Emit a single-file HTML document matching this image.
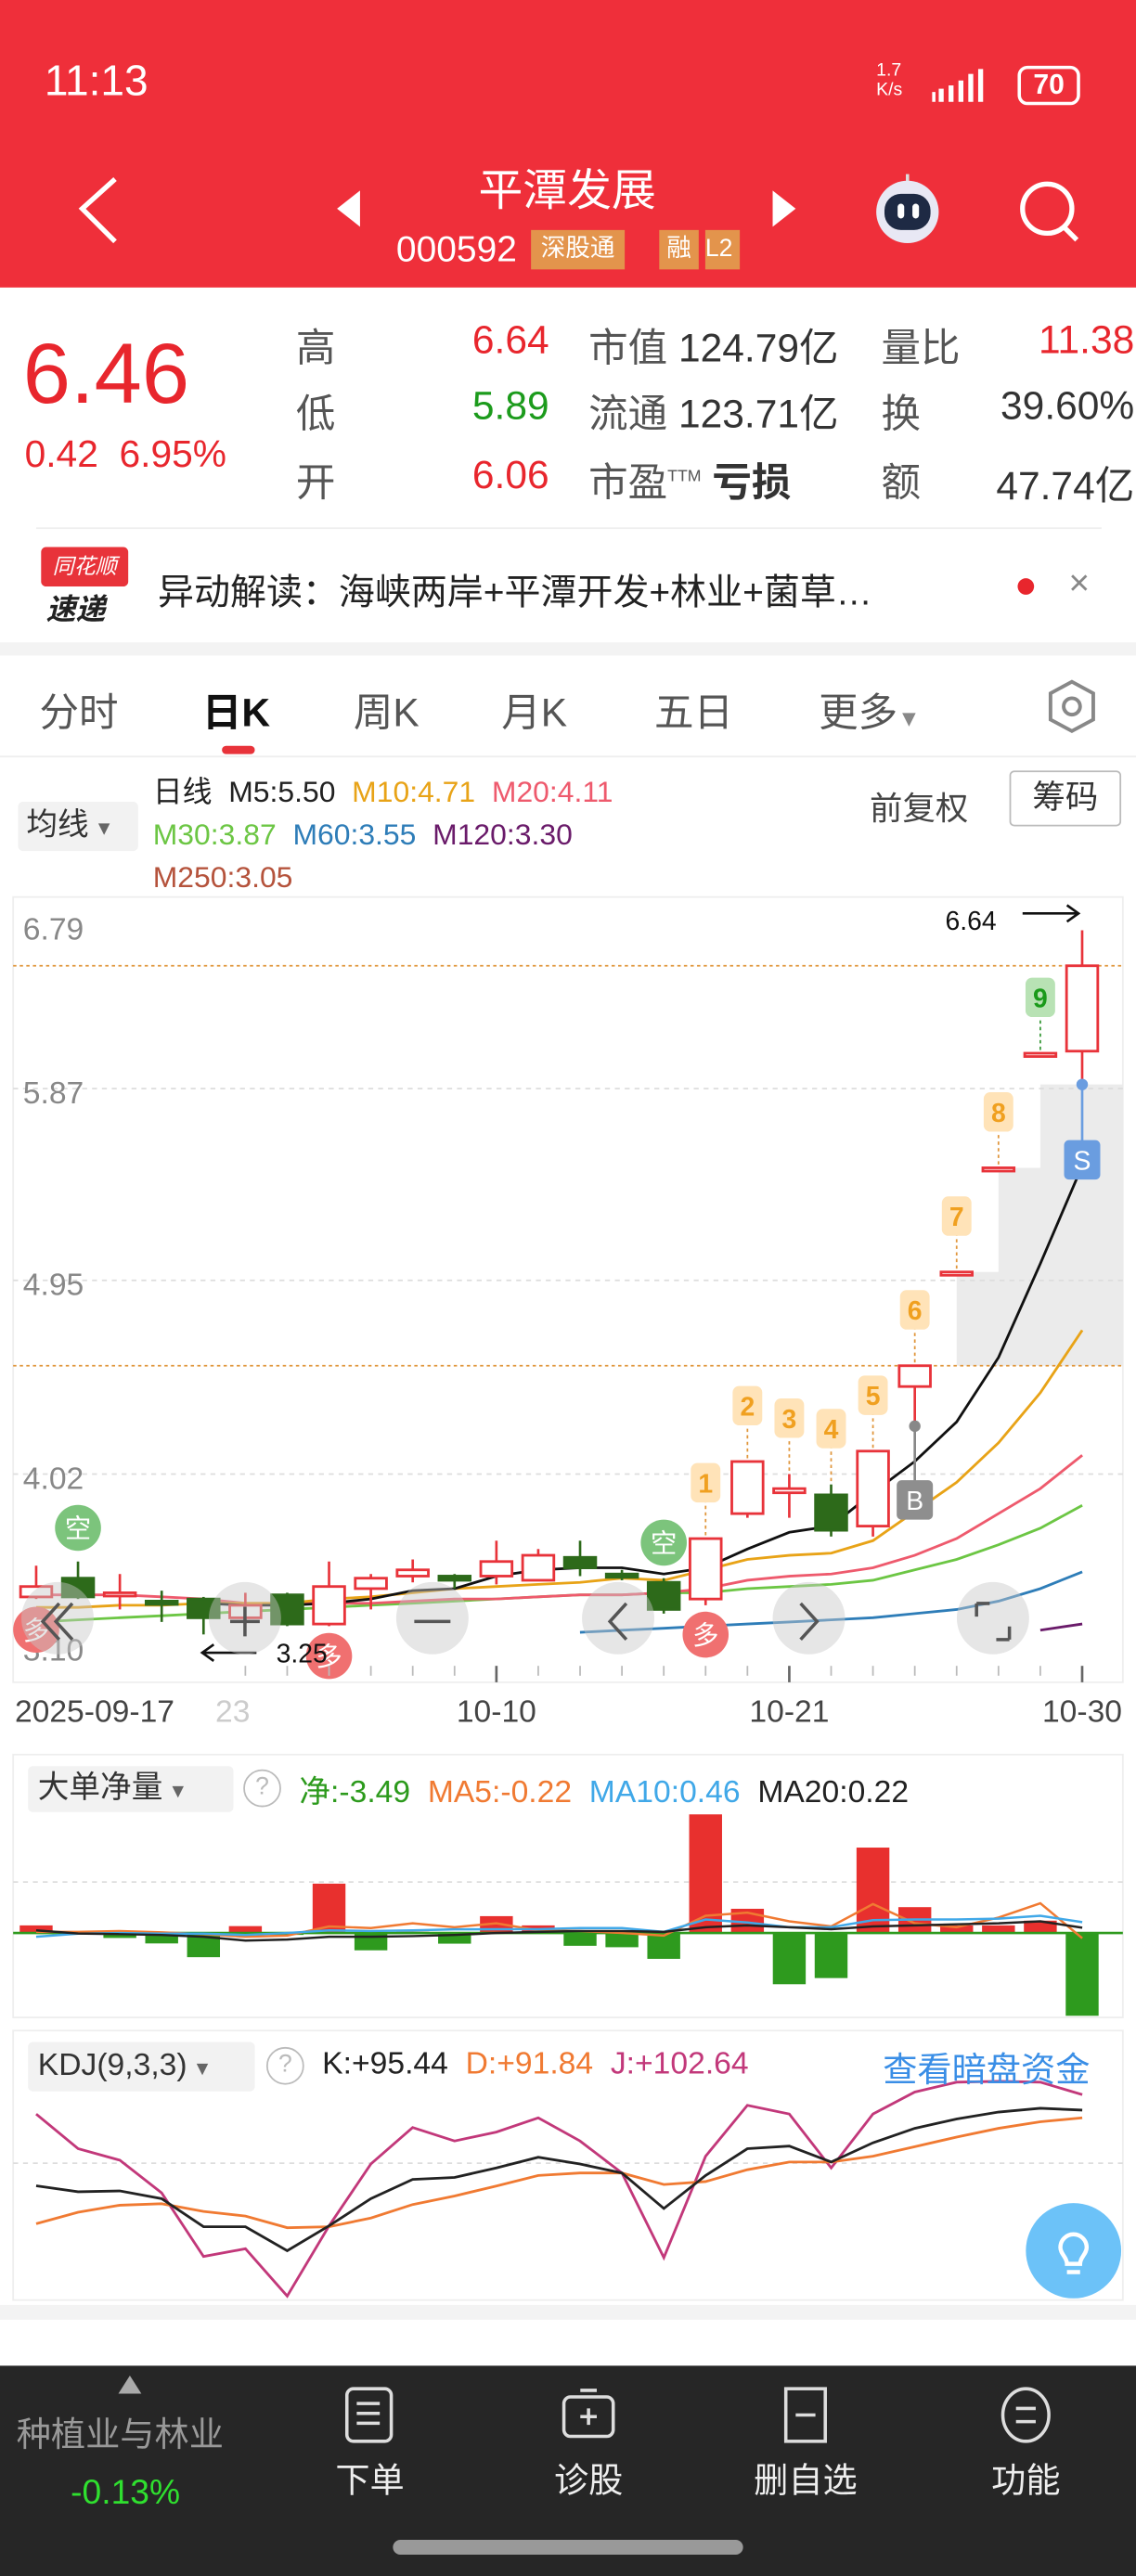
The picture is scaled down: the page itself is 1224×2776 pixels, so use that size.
<!DOCTYPE html>
<html><head><meta charset="utf-8">
<style>
*{margin:0;padding:0;box-sizing:border-box}
html,body{width:1224px;height:2776px;overflow:hidden;background:#fff}
#root{position:absolute;left:0;top:0;width:691px;height:1568px;transform-origin:0 0;transform:scale(1.77135,1.77041);font-family:"Liberation Sans","Noto Sans CJK SC",sans-serif;background:#fff;overflow:hidden}
.a{position:absolute;white-space:nowrap}
.r{position:absolute;white-space:nowrap;text-align:right;width:100px}
</style></head><body>
<div id="root">
<div class="a" style="left:0;top:0;width:691px;height:175px;background:#ef2f3a"></div>
<div class="a" style="left:27px;top:34px;color:#fff;font-size:26px">11:13</div>
<div class="a" style="left:533px;top:37px;color:#fff;font-size:11px;line-height:12px">1.7<br>K/s</div>
<svg class="a" style="left:565px;top:40px" width="45" height="24"><g fill="#fff"><rect x="2" y="16" width="2" height="6"/><rect x="6" y="14" width="3" height="8"/><rect x="12" y="12" width="3" height="10"/><rect x="18" y="9" width="3" height="13"/><rect x="24" y="5" width="3" height="17"/><rect x="30" y="2" width="3" height="20"/></g></svg>
<div class="a" style="left:619px;top:40px;width:38px;height:24px;border:2px solid #fff;border-radius:6px;color:#fff;font-size:17px;font-weight:bold;text-align:center;line-height:20px">70</div>
<svg class="a" style="left:40px;top:105px" width="40" height="45"><polyline points="30,4 10,22 30,42" fill="none" stroke="#fff" stroke-width="3"/></svg>
<div class="a" style="left:205px;top:116px;width:0;height:0;border-top:11px solid transparent;border-bottom:11px solid transparent;border-right:14px solid #fff"></div>
<div class="a" style="left:470px;top:116px;width:0;height:0;border-top:11px solid transparent;border-bottom:11px solid transparent;border-left:14px solid #fff"></div>
<div class="a" style="left:245px;top:94px;width:200px;text-align:center;color:#fff;font-size:27px">平潭发展</div>
<div class="a" style="left:241px;top:139px;color:#fff;font-size:22px">000592</div>
<div class="a" style="left:323px;top:140px;width:57px;height:24px;background:#e3944c;color:#fff;font-size:15px;line-height:24px;text-align:center">深股通</div>
<div class="a" style="left:401px;top:140px;width:24px;height:24px;background:#e3944c;color:#fff;font-size:15px;line-height:24px;text-align:center">融</div>
<div class="a" style="left:429px;top:140px;width:21px;height:24px;background:#e3944c;color:#fff;font-size:15px;line-height:24px;overflow:hidden">L2</div>
<svg class="a" style="left:528px;top:102px" width="48" height="50"><line x1="24" y1="4" x2="24" y2="10" stroke="#ddd" stroke-width="2"/><circle cx="24" cy="27" r="19" fill="#e8e8f4"/><rect x="10" y="16" width="28" height="22" rx="10" fill="#1e2a44"/><rect x="18" y="22" width="4" height="9" rx="2" fill="#fff"/><rect x="27" y="22" width="4" height="9" rx="2" fill="#fff"/></svg>
<svg class="a" style="left:615px;top:106px" width="48" height="48"><circle cx="22" cy="21" r="15" fill="none" stroke="#fff" stroke-width="3"/><line x1="32" y1="32" x2="40" y2="40" stroke="#fff" stroke-width="3"/></svg>

<div class="a" style="left:14px;top:198px;color:#e8262d;font-size:52px">6.46</div>
<div class="a" style="left:15px;top:263px;color:#e8262d;font-size:23px">0.42&nbsp;&nbsp;6.95%</div>
<div class="a" style="left:0;top:0;width:691px;height:320px;font-size:24px;color:#555">
<div class="a" style="left:180px;top:192px">高</div><div class="a" style="left:180px;top:232px">低</div><div class="a" style="left:180px;top:274px">开</div>
<div class="r" style="left:234px;top:194px;color:#e8262d">6.64</div><div class="r" style="left:234px;top:234px;color:#1c9b1c">5.89</div><div class="r" style="left:234px;top:276px;color:#e8262d">6.06</div>
<div class="a" style="left:358px;top:192px">市值<span style="color:#333"> 124.79亿</span></div>
<div class="a" style="left:358px;top:232px">流通<span style="color:#333"> 123.71亿</span></div>
<div class="a" style="left:358px;top:274px">市盈<sup style="font-size:10px">TTM</sup> <span style="color:#333;font-weight:bold">亏损</span></div>
<div class="a" style="left:536px;top:192px">量比</div><div class="a" style="left:536px;top:232px">换</div><div class="a" style="left:536px;top:274px">额</div>
<div class="r" style="left:590px;top:194px;color:#e8262d">11.38</div><div class="r" style="left:590px;top:234px;color:#333">39.60%</div><div class="r" style="left:590px;top:276px;color:#333">47.74亿</div>
</div>
<div class="a" style="left:22px;top:321px;width:648px;height:1px;background:#eee"></div>
<div class="a" style="left:25px;top:333px;width:53px;height:24px;background:#e8333a;color:#fff;font-size:13px;font-style:italic;text-align:center;line-height:24px;border-radius:3px">同花顺</div>
<div class="a" style="left:28px;top:357px;font-size:18px;font-weight:bold;font-style:italic;color:#222">速递</div>
<div class="a" style="left:96px;top:343px;font-size:22px;color:#222">异动解读：海峡两岸+平潭开发+林业+菌草…</div>
<div class="a" style="left:619px;top:352px;width:10px;height:10px;border-radius:5px;background:#e8262d"></div>
<div class="a" style="left:650px;top:342px;font-size:22px;color:#888">×</div>
<div class="a" style="left:0;top:391px;width:691px;height:8px;background:#f3f3f3"></div>
<div class="a" style="left:0;top:414px;font-size:24px;color:#555">
<div class="a" style="left:24px">分时</div>
<div class="a" style="left:123px;color:#111;font-weight:bold">日K</div>
<div class="a" style="left:215px">周K</div>
<div class="a" style="left:305px">月K</div>
<div class="a" style="left:398px">五日</div>
<div class="a" style="left:498px">更多<span style="font-size:14px;color:#888">▼</span></div>
</div>
<svg class="a" style="left:636px;top:413px" width="32" height="34"><polygon points="16,2 29,9 29,25 16,32 3,25 3,9" fill="none" stroke="#888" stroke-width="2.2"/><circle cx="16" cy="17" r="5" fill="none" stroke="#888" stroke-width="2.2"/></svg>
<div class="a" style="left:135px;top:454px;width:20px;height:5px;border-radius:3px;background:#e8333a"></div>
<div class="a" style="left:0;top:460px;width:691px;height:1px;background:#eee"></div>
<div class="a" style="left:11px;top:488px;width:73px;height:30px;background:#f2f2f2;border-radius:3px;font-size:19px;color:#333;line-height:30px;padding-left:5px">均线<span style="font-size:12px;color:#666"> ▼</span></div>
<div class="a" style="left:93px;top:469px;font-size:18px;line-height:26px">
<span style="color:#222">日线&nbsp; M5:5.50</span>&nbsp; <span style="color:#e8a317">M10:4.71</span>&nbsp; <span style="color:#ee5a6d">M20:4.11</span><br>
<span style="color:#6cc644">M30:3.87</span>&nbsp; <span style="color:#2e7db8">M60:3.55</span>&nbsp; <span style="color:#6a1b6a">M120:3.30</span><br>
<span style="color:#b5533c">M250:3.05</span></div>
<div class="a" style="left:529px;top:476px;font-size:20px;color:#444">前复权</div>
<div class="a" style="left:614px;top:469px;width:68px;height:34px;border:1px solid #bbb;border-radius:3px;font-size:20px;color:#333;text-align:center;line-height:32px">筹码</div>

<svg id="chart" class="a" style="left:0;top:0" width="691" height="1568"></svg>

<div class="a" style="left:17px;top:1075px;width:125px;height:28px;background:#f2f2f2;border-radius:3px;font-size:19px;color:#333;line-height:28px;padding-left:6px">大单净量<span style="font-size:12px;color:#666"> ▼</span></div>
<div class="a" style="left:148px;top:1077px;width:23px;height:23px;border:1.5px solid #bbb;border-radius:12px;color:#bbb;font-size:15px;text-align:center;line-height:20px">?</div>
<div class="a" style="left:182px;top:1076px;font-size:19px"><span style="color:#2c9a1c">净:-3.49</span>&nbsp; <span style="color:#f07a32">MA5:-0.22</span>&nbsp; <span style="color:#40a8e8">MA10:0.46</span>&nbsp; <span style="color:#222">MA20:0.22</span></div>
<div class="a" style="left:17px;top:1243px;width:138px;height:30px;background:#f2f2f2;border-radius:3px;font-size:19px;color:#333;line-height:30px;padding-left:6px">KDJ(9,3,3)<span style="font-size:12px;color:#666"> ▼</span></div>
<div class="a" style="left:162px;top:1246px;width:23px;height:23px;border:1.5px solid #bbb;border-radius:12px;color:#bbb;font-size:15px;text-align:center;line-height:20px">?</div>
<div class="a" style="left:196px;top:1246px;font-size:19px"><span style="color:#222">K:+95.44</span>&nbsp; <span style="color:#f07a32">D:+91.84</span>&nbsp; <span style="color:#c2387a">J:+102.64</span></div>
<div class="a" style="left:537px;top:1244px;font-size:21px;color:#3a8ee6">查看暗盘资金</div>
<svg class="a" style="left:623px;top:1340px" width="60" height="60"><circle cx="30" cy="30" r="29" fill="#6cc2f8"/><path d="M22 28a8 8 0 1 1 16 0c0 4-4 6-4 10h-8c0-4-4-6-4-10z" fill="none" stroke="#fff" stroke-width="2.5"/><line x1="26" y1="43" x2="34" y2="43" stroke="#fff" stroke-width="2.5"/></svg>
<div class="a" style="left:0;top:1403px;width:691px;height:9px;background:#f3f3f3"></div>

<div class="a" style="left:0;top:1440px;width:691px;height:128px;background:#262626"></div>
<div class="a" style="left:72px;top:1446px;width:0;height:0;border-left:7px solid transparent;border-right:7px solid transparent;border-bottom:11px solid #aaa"></div>
<div class="a" style="left:10px;top:1466px;font-size:21px;color:#999">种植业与林业</div>
<div class="a" style="left:43px;top:1506px;font-size:21px;color:#2fe02f">-0.13%</div>
<div class="a" style="left:195px;top:1452px;width:60px;text-align:center;color:#eee;font-size:21px"><svg width="32" height="36"><rect x="2" y="2" width="27" height="32" rx="4" fill="none" stroke="#ddd" stroke-width="2"/><line x1="8" y1="11" x2="22" y2="11" stroke="#ddd" stroke-width="2"/><line x1="8" y1="17" x2="22" y2="17" stroke="#ddd" stroke-width="2"/><line x1="8" y1="23" x2="22" y2="23" stroke="#ddd" stroke-width="2"/></svg><br>下单</div>
<div class="a" style="left:328px;top:1452px;width:60px;text-align:center;color:#eee;font-size:21px"><svg width="36" height="36"><rect x="3" y="7" width="30" height="24" rx="4" fill="none" stroke="#ddd" stroke-width="2"/><line x1="13" y1="3" x2="23" y2="3" stroke="#ddd" stroke-width="2"/><line x1="18" y1="14" x2="18" y2="24" stroke="#ddd" stroke-width="2"/><line x1="13" y1="19" x2="23" y2="19" stroke="#ddd" stroke-width="2"/></svg><br>诊股</div>
<div class="a" style="left:455px;top:1452px;width:70px;text-align:center;color:#eee;font-size:21px"><svg width="32" height="36"><rect x="4" y="2" width="24" height="32" fill="none" stroke="#ddd" stroke-width="2"/><line x1="10" y1="18" x2="22" y2="18" stroke="#ddd" stroke-width="2"/></svg><br>删自选</div>
<div class="a" style="left:594px;top:1452px;width:60px;text-align:center;color:#eee;font-size:21px"><svg width="34" height="36"><ellipse cx="17" cy="18" rx="14" ry="16" fill="none" stroke="#ddd" stroke-width="2"/><line x1="11" y1="14" x2="23" y2="14" stroke="#ddd" stroke-width="2"/><line x1="11" y1="22" x2="23" y2="22" stroke="#ddd" stroke-width="2"/></svg><br>功能</div>
<div class="a" style="left:239px;top:1546px;width:213px;height:9px;border-radius:5px;background:#999"></div>
</div>
<script>
// ---- data ----
const dates=["09-17","09-18","09-19","09-22","09-23","09-24","09-25","09-26","09-29","09-30","10-09","10-10","10-13","10-14","10-15","10-16","10-17","10-20","10-21","10-22","10-23","10-24","10-27","10-28","10-29","10-30"];
const opens=[3.43,3.52,3.44,3.41,3.42,3.33,3.44,3.30,3.47,3.53,3.53,3.53,3.51,3.62,3.54,3.50,3.42,3.83,3.93,3.92,3.77,4.44,4.99,5.49,6.04,6.05];
const closes=[3.48,3.43,3.45,3.40,3.33,3.39,3.30,3.48,3.52,3.56,3.51,3.60,3.63,3.57,3.53,3.37,3.71,4.08,3.95,3.75,4.13,4.54,4.99,5.49,6.04,6.46];
const highs=[3.58,3.60,3.54,3.46,3.43,3.45,3.45,3.60,3.54,3.61,3.54,3.70,3.66,3.70,3.56,3.52,3.71,4.08,4.02,3.97,4.13,4.54,4.99,5.49,6.04,6.63];
const lows=[3.42,3.42,3.37,3.31,3.25,3.30,3.29,3.29,3.37,3.50,3.47,3.49,3.51,3.53,3.51,3.35,3.39,3.81,3.81,3.72,3.72,4.25,4.99,5.49,6.04,5.89];
const ma5=[null,null,null,null,3.40,3.39,3.39,3.40,3.42,3.46,3.47,3.53,3.56,3.57,3.57,3.54,3.57,3.66,3.74,3.77,3.93,4.08,4.27,4.58,5.03,5.50];
const ma10=[3.38,3.38,3.39,3.39,3.40,3.40,3.40,3.42,3.43,3.45,3.47,3.48,3.49,3.50,3.52,3.51,3.56,3.61,3.63,3.64,3.70,3.84,3.98,4.17,4.41,4.71];
const ma20=[3.44,3.44,3.44,3.43,3.42,3.40,3.40,3.40,3.40,3.41,3.42,3.42,3.43,3.44,3.44,3.45,3.47,3.51,3.53,3.54,3.57,3.63,3.71,3.83,3.95,4.11];
const ma30=[3.31,3.32,3.33,3.34,3.35,3.36,3.37,3.38,3.39,3.40,3.41,3.42,3.43,3.44,3.44,3.45,3.45,3.47,3.48,3.49,3.51,3.56,3.61,3.68,3.76,3.87];
const ma60=[null,null,null,null,null,null,null,null,null,null,null,null,null,3.26,3.27,3.28,3.29,3.30,3.31,3.32,3.33,3.35,3.37,3.41,3.47,3.55];
const ma120=[null,null,null,null,null,null,null,null,null,null,null,null,null,null,null,null,null,null,null,null,null,null,null,null,3.27,3.30];
const priceTicks=[6.79,5.87,4.95,4.02,3.10];
const dateLabels=[[0,"2025-09-17"],[11,"10-10"],[18,"10-21"],[25,"10-30"]];
const ddNet=[0.32,-0.05,-0.21,-0.44,-1.02,0.29,-0.08,2.08,-0.73,0.05,-0.45,0.71,0.32,-0.54,-0.6,-1.09,5.0,1.02,-2.16,-1.9,3.6,1.09,0.32,0.32,0.52,-3.49];
const ddMa5=[0.05,0.05,0.08,0.03,-0.05,-0.16,-0.11,0.28,0.21,0.41,0.24,0.41,0.11,0.08,0,-0.11,0.73,0.86,0.49,0.28,1.22,0.41,0.24,0.65,1.25,-0.22];
const ddMa10=[-0.16,-0.03,0,-0.03,-0.03,-0.08,0,0.11,0.08,0.11,0.15,0.16,0.16,0.21,0.21,0.05,0.57,0.44,0.24,0.24,0.54,0.57,0.57,0.6,0.73,0.46];
const ddMa20=[0.11,-0.02,-0.05,-0.08,-0.16,-0.32,-0.28,-0.16,-0.16,-0.13,-0.08,0,0.05,0.08,0.08,0.05,0.24,0.32,0.24,0.16,0.28,0.32,0.37,0.41,0.49,0.22];
const kVals=[60,57.2,57.6,54,40.8,40.8,29.6,41.3,54,63,63.9,68.4,73.4,70.2,66,49.4,64.8,77.4,78.6,71.1,80.1,86.9,91.3,94.5,96.3,95.44];
const dVals=[42.2,47.6,50.9,51.6,48,45.8,40.4,40.8,44.9,51.2,55.2,59.9,64.8,66,66,60.6,62,67.5,71.1,71.1,73.8,78.3,82.8,86.9,90,91.84];
const jVals=[93.6,77.4,72,56.7,26.9,30.5,8.4,41.3,70.2,87.3,81,85.1,91.8,81,66,26.4,73.8,97.7,93.6,68.4,93.6,103.9,108.5,108.9,108.5,102.64];

// ---- axes ----
const X=i=>22+i*25.45;
const PY=p=>546+(6.79-p)*126.8;
const DY=v=>1176.6-v*14.44;
const KY=v=>1284.4+(95.44-v)*1.3;
const svg=document.getElementById('chart');
const NS='http://www.w3.org/2000/svg';
function mk(tag,at,parent){const e=document.createElementNS(NS,tag);for(const k in at)e.setAttribute(k,at[k]);(parent||svg).appendChild(e);return e;}

let e;
e=mk('rect',{x:8,y:546,width:675,height:478,fill:'none',stroke:'#eee'});


e=mk('rect',{x:8,y:1068,width:675,height:160,fill:'none',stroke:'#eee'});


e=mk('rect',{x:8,y:1236,width:675,height:164,fill:'none',stroke:'#eee'});


e=mk('path',{d:`M${X(22)} ${PY(4.54)} V${PY(4.99)} H${X(23)} V${PY(5.49)} H${X(24)} V${PY(5.89)} H683 V${PY(4.54)} Z`,fill:'#ebebeb'});


priceTicks.forEach((p,i)=>{
  if(i>0&&i<priceTicks.length-1){const g=mk('line',{x1:8,x2:683,y1:PY(p),y2:PY(p),stroke:'#ddd','stroke-dasharray':'3,3'});}
  const t=mk('text',{x:14,y:PY(p)+(i==0?26:(i==priceTicks.length-1?-3:9)),fill:'#888','font-size':19});t.textContent=p.toFixed(2);
  
  
});
[6.46,4.54].forEach(p=>{const l=mk('line',{x1:8,x2:683,y1:PY(p),y2:PY(p),stroke:'#e0963c','stroke-dasharray':'2,2'});});
function line(arr,fy,color,name,w){let d='';arr.forEach((v,i)=>{if(v==null)return;d+=(d?'L':'M')+X(i).toFixed(1)+' '+fy(v).toFixed(1);});const p=mk('path',{d:d,fill:'none',stroke:color,'stroke-width':w||1.6});}
line(ma120,PY,'#6a1b6a','ma120-line');
line(ma60,PY,'#2e7db8','ma60-line');
line(ma30,PY,'#6cc644','ma30-line');
line(ma20,PY,'#ee5a6d','ma20-line');
line(ma10,PY,'#e8a317','ma10-line');
line(ma5,PY,'#111','ma5-line');
opens.forEach((o,i)=>{
  const c=closes[i],x=X(i),up=c>=o,col=up?'#e8333a':'#2d6a1a';
  const top=PY(Math.max(o,c)),bot=PY(Math.min(o,c));
  const w=mk('line',{x1:x,x2:x,y1:PY(highs[i]),y2:PY(lows[i]),stroke:col,'stroke-width':1.5});
  
  
  const r=mk('rect',{x:x-9.5,y:top,width:19,height:Math.max(bot-top,2),fill:up?'#fff':col,stroke:col,'stroke-width':1.6});
  
  
});
for(let n=1;n<=9;n++){
  const i=15+n,x=X(i),yt=PY(highs[i])-34;
  const l=mk('line',{x1:x,x2:x,y1:yt+10,y2:PY(highs[i]),stroke:n==9?'#3a9a3a':'#e0963c','stroke-dasharray':'2,2'});
  
  
  const b=mk('rect',{x:x-9,y:yt-12,width:18,height:24,rx:4,fill:n==9?'#b8e2b4':'#ffe3b8'});
  
  
  const t=mk('text',{x:x,y:yt+6,'text-anchor':'middle',fill:n==9?'#1a9a1a':'#f0a020','font-size':16,'font-weight':'bold'});t.textContent=n;
  
  
}
function badge(i,y,txt,bg,fg,name,round){const x=X(i);const b=round?mk('circle',{cx:x,cy:y,r:14,fill:bg}):mk('rect',{x:x-11,y:y-12,width:22,height:24,rx:3,fill:bg});const t=mk('text',{x:x,y:y+6,'text-anchor':'middle',fill:fg,'font-size':16});t.textContent=txt;}
badge(1,930,'空','#7cc47c','#fff','short-signal',1);
badge(15,939,'空','#7cc47c','#fff','short-signal-2',1);
badge(16,995,'多','#f07070','#fff','long-signal',1);
badge(7,1008,'多','#f07070','#fff','long-signal-2',1);
badge(0,992,'多','#f07070','#fff','long-signal-3',1);
e=mk('line',{x1:X(21),x2:X(21),y1:PY(4.25),y2:905,stroke:'#888','stroke-width':1.5});


e=mk('circle',{cx:X(21),cy:PY(4.25),r:3.5,fill:'#888'});


badge(21,913,'B','#8e8e8e','#fff','buy-signal');
e=mk('line',{x1:X(25),x2:X(25),y1:PY(5.89),y2:700,stroke:'#6a9de0','stroke-width':1.5});


e=mk('circle',{cx:X(25),cy:PY(5.89),r:3.5,fill:'#6a9de0'});


badge(25,706,'S','#6a9de0','#fff','sell-signal');
e=mk('text',{x:575,y:566,fill:'#111','font-size':16});e.textContent='6.64';


e=mk('path',{d:'M622 556 H656 M649 551 L656 556 L649 561',fill:'none',stroke:'#111','stroke-width':1.5});


e=mk('text',{x:168,y:1012,fill:'#111','font-size':16});e.textContent='3.25';


e=mk('path',{d:'M123 1006 H156 M130 1001 L123 1006 L130 1011',fill:'none',stroke:'#111','stroke-width':1.5});


const btnX=[35,149,263,376,492,604],btnNames=['scroll-left-far','zoom-in','zoom-out','scroll-left','scroll-right','fullscreen'];
const icons=['M44 976 L34 987 L44 998 M36 976 L26 987 L36 998','M149 978 V996 M140 987 H158','M252 987 H274','M381 976 L371 987 L381 998','M487 976 L497 987 L487 998','M594 976 V984 M594 976 H602 M614 998 V990 M614 998 H606'];
btnX.forEach((x,i)=>{const c=mk('circle',{cx:x,cy:985,r:22,fill:'rgba(200,200,200,0.45)'});const p=mk('path',{d:icons[i],fill:'none',stroke:'#555','stroke-width':2});});
dates.forEach((d,i)=>{if(i<5)return;const big=[11,18,25].includes(i);const t=mk('line',{x1:X(i),x2:X(i),y1:1014,y2:1014+(big?10:6),stroke:big?'#666':'#bbb','stroke-width':big?1.5:1});});
e=mk('text',{x:131,y:1048,fill:'#ccc','font-size':19});e.textContent='23';


dateLabels.forEach(([i,s])=>{const t=mk('text',{x:i==0?9:X(i),y:1048,'text-anchor':i==0?'start':'middle',fill:'#444','font-size':19});t.textContent=s;});
e=mk('line',{x1:8,x2:683,y1:DY(2.15),y2:DY(2.15),stroke:'#ddd','stroke-dasharray':'3,3'});


ddNet.forEach((v,i)=>{const y0=DY(0),y1=DY(v);const r=mk('rect',{x:X(i)-10,y:Math.min(y0,y1),width:20,height:Math.max(Math.abs(y1-y0),1),fill:v>=0?'#e8302e':'#2e9a1e'});});
e=mk('line',{x1:8,x2:683,y1:DY(0),y2:DY(0),stroke:'#2e9a1e','stroke-width':1.5});


line(ddMa5,DY,'#f07a32','dd-ma5-line',1.4);
line(ddMa10,DY,'#40a8e8','dd-ma10-line',1.4);
line(ddMa20,DY,'#222','dd-ma20-line',1.4);
e=mk('line',{x1:8,x2:683,y1:1316.7,y2:1316.7,stroke:'#ddd','stroke-dasharray':'3,3'});


line(jVals,KY,'#c2387a','kdj-j-line',1.6);
line(dVals,KY,'#f07a32','kdj-d-line',1.6);
line(kVals,KY,'#222','kdj-k-line',1.6);
</script>
</body></html>
